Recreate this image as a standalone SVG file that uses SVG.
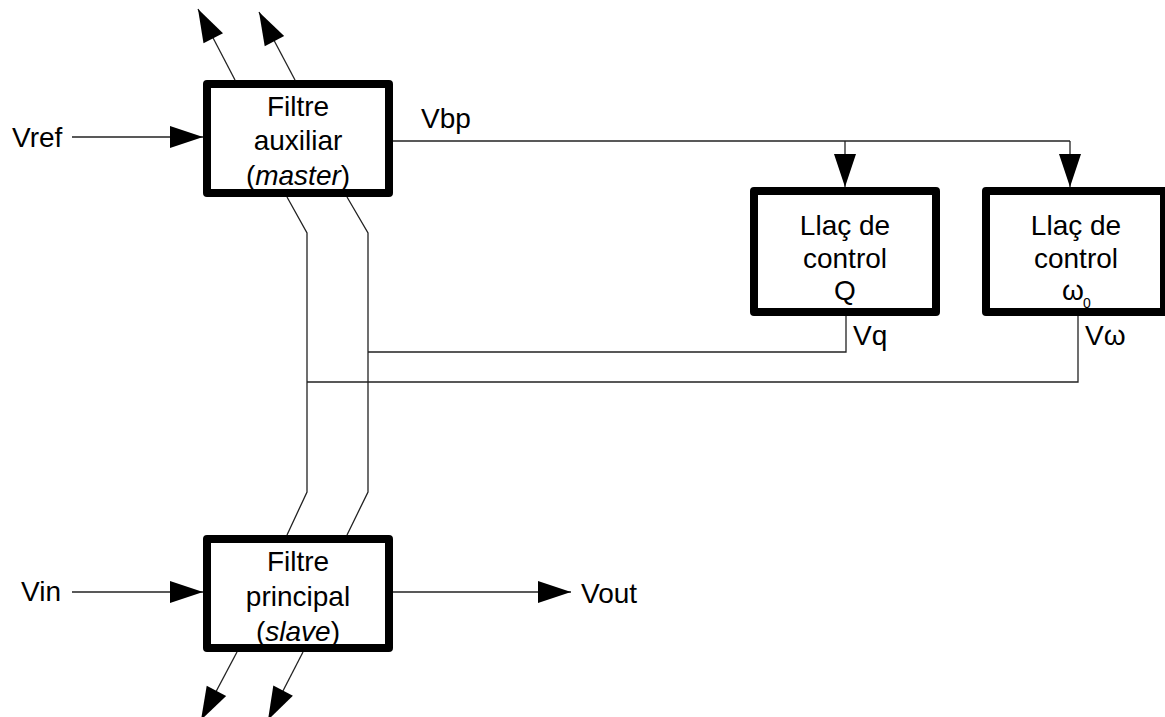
<svg xmlns="http://www.w3.org/2000/svg" width="1165" height="717" viewBox="0 0 1165 717">
  <defs>
    <style>
      text { font-family: "Liberation Sans", Arial, sans-serif; font-size: 28px; fill: #000; }
      .c { text-anchor: middle; }
      .box { fill: #fff; stroke: #000; stroke-width: 8; stroke-linejoin: round; }
      .ln { fill: none; stroke: #222; stroke-width: 1.3; }
      .arr { marker-end: url(#ah); }
    </style>
    <marker id="ah" markerUnits="userSpaceOnUse" markerWidth="34" markerHeight="24" refX="33" refY="11" orient="auto" overflow="visible">
      <path d="M0,0 L33,11 L0,22 Z" fill="#000"/>
    </marker>
  </defs>
  <rect width="1165" height="717" fill="#fff"/>

  <g id="connectors">
    <line class="ln arr" x1="72" y1="137" x2="203" y2="137"/>
    <line class="ln arr" x1="72" y1="592" x2="203" y2="592"/>
    <line class="ln arr" x1="393" y1="592" x2="571" y2="592"/>
    <line class="ln arr" x1="235" y1="80" x2="198" y2="9"/>
    <line class="ln arr" x1="295" y1="80" x2="259" y2="12"/>
    <line class="ln arr" x1="237" y1="652" x2="201" y2="720"/>
    <line class="ln arr" x1="303" y1="652" x2="268" y2="720"/>
    <polyline class="ln" points="287,197 307,233 307,492 287,535"/>
    <polyline class="ln" points="347,197 368,233 368,492 347,535"/>
    <line class="ln" x1="393" y1="141" x2="1070" y2="141"/>
    <line class="ln arr" x1="845" y1="141" x2="845" y2="187"/>
    <line class="ln arr" x1="1070" y1="141" x2="1070" y2="187"/>
    <polyline class="ln" points="846,316 846,352 368,352"/>
    <polyline class="ln" points="1078,316 1078,382 307,382"/>
  </g>

  <g id="master">
    <rect class="box" x="207" y="84" width="182" height="109"/>
    <text class="c" x="298" y="116">Filtre</text>
    <text class="c" x="298" y="150">auxiliar</text>
    <text class="c" x="298" y="185">(<tspan font-style="italic">master</tspan>)</text>
  </g>

  <g id="slave">
    <rect class="box" x="207" y="539" width="182" height="109"/>
    <text class="c" x="298" y="571">Filtre</text>
    <text class="c" x="298" y="606">principal</text>
    <text class="c" x="298" y="641">(<tspan font-style="italic">slave</tspan>)</text>
  </g>

  <g id="controlQ">
    <rect class="box" x="754" y="191" width="182" height="121"/>
    <text class="c" x="845" y="235">Llaç de</text>
    <text class="c" x="845" y="268">control</text>
    <text class="c" x="845" y="300">Q</text>
  </g>

  <g id="controlW">
    <rect class="box" x="986" y="191" width="178" height="121"/>
    <text class="c" x="1076" y="235">Llaç de</text>
    <text class="c" x="1076" y="268">control</text>
    <text x="1062" y="300">ω</text>
    <text x="1083" y="308" style="font-size:14px">0</text>
  </g>

  <g id="labels">
    <text x="12" y="147">Vref</text>
    <text x="21" y="601">Vin</text>
    <text x="581" y="603">Vout</text>
    <text x="421" y="128">Vbp</text>
    <text x="853" y="345">Vq</text>
    <text x="1085" y="345">Vω</text>
  </g>
</svg>
